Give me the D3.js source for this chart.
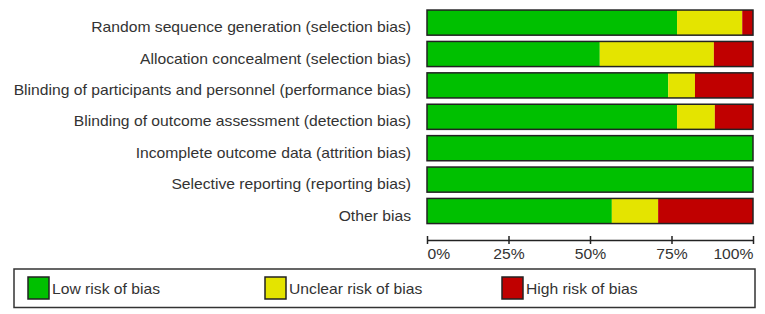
<!DOCTYPE html>
<html>
<head>
	<meta charset="utf-8">
	<title></title>
	<style>
		body { margin: 0; background: #fff; }
		text { font-family: "Liberation Sans", Arial, sans-serif; fill: #333; }
	</style>
</head>
<body>
	<svg id="container" width="765" height="314"></svg>
<script src="https://d3js.org/d3.v7.min.js"></script>
<script>
	let categories = [
		"Random sequence generation (selection bias)",
		"Allocation concealment (selection bias)",
		"Blinding of participants and personnel (performance bias)",
		"Blinding of outcome assessment (detection bias)",
		"Incomplete outcome data (attrition bias)",
		"Selective reporting (reporting bias)",
		"Other bias"
	]
	let lowRisk = [76.7, 53, 74, 76.7, 100, 100, 56.7]
	let unclearRisk = [20, 35, 8.2, 11.6, 0, 0, 14.2]
	let highRisk = [3.3, 12, 17.8, 11.7, 0, 0, 29.1]
	let seriesNames = ["Low risk of bias", "Unclear risk of bias", "High risk of bias"]
	let seriesColors = ["#00c000", "#e4e400", "#c00000"]
	let tickValues = [0, 25, 50, 75, 100]

	let svg = d3.select("#container")
	let stretch = 1.12

	let rows = categories.map((c, i) => ({
		cat: c, low: lowRisk[i], unclear: unclearRisk[i], high: highRisk[i]
	}))

	let x = d3.scaleLinear().domain([0, 100]).range([427, 753])
	let y = d3.scaleBand()
		.domain(categories)
		.range([6.9, 226.7])
		.paddingInner(0.2)
		.paddingOuter(0.1)

	let color = d3.scaleOrdinal().domain(["low", "unclear", "high"]).range(seriesColors)

	let stacked = d3.stack().keys(["low", "unclear", "high"])(rows)

	// segments
	svg.append("g").selectAll("g")
		.data(stacked)
		.join("g")
		.attr("fill", d => color(d.key))
		.selectAll("rect")
		.data(d => d)
		.join("rect")
		.attr("x", d => x(d[0]))
		.attr("width", d => x(d[1]) - x(d[0]))
		.attr("y", d => y(d.data.cat))
		.attr("height", y.bandwidth())

	// outlines
	svg.append("g").selectAll("rect")
		.data(rows)
		.join("rect")
		.attr("x", x(0))
		.attr("width", x(100) - x(0))
		.attr("y", d => y(d.cat))
		.attr("height", y.bandwidth())
		.attr("fill", "none")
		.attr("stroke", "#222")
		.attr("stroke-width", 1.5)

	// category labels
	svg.append("g").selectAll("text")
		.data(categories)
		.join("text")
		.attr("transform", d => `translate(411,${y(d) + y.bandwidth() - 3}) scale(${stretch},1)`)
		.attr("text-anchor", "end")
		.style("font-size", "14px")
		.text(d => d)

	// axis
	let axis = svg.append("g")
		.attr("transform", "translate(0,240)")
		.call(d3.axisBottom(x).tickValues(tickValues).tickSize(4).tickSizeOuter(0).tickFormat(d => d + "%"))
	axis.select(".domain").attr("stroke", "#222").attr("stroke-width", 1.5)
	axis.selectAll(".tick line").attr("y1", -4).attr("stroke", "#222").attr("stroke-width", 1.5)
	axis.selectAll(".tick text")
		.attr("y", null).attr("dy", null)
		.attr("transform", `translate(0,19) scale(${stretch},1)`)
		.style("font-size", "14px")
		.style("font-family", "'Liberation Sans', Arial, sans-serif")
		.attr("fill", "#333")
		.attr("text-anchor", (d, i) => i == 0 ? "start" : (i == tickValues.length - 1 ? "end" : "middle"))

	// legend
	let legend = svg.append("g")
	legend.append("rect")
		.attr("x", 14).attr("y", 269)
		.attr("width", 741).attr("height", 38.5)
		.attr("fill", "none").attr("stroke", "#333").attr("stroke-width", 1.5)
	let legendX = [28, 265, 502]
	let item = legend.selectAll(".item")
		.data(seriesNames)
		.join("g")
		.attr("class", "item")
		.attr("transform", (d, i) => `translate(${legendX[i]},277)`)
	item.append("rect")
		.attr("width", 21).attr("height", 22)
		.attr("fill", (d, i) => seriesColors[i])
		.attr("stroke", "#222").attr("stroke-width", 1.5)
	item.append("text")
		.attr("transform", `translate(24,17) scale(${stretch},1)`)
		.style("font-size", "14px")
		.text(d => d)
</script>
</body>
</html>
